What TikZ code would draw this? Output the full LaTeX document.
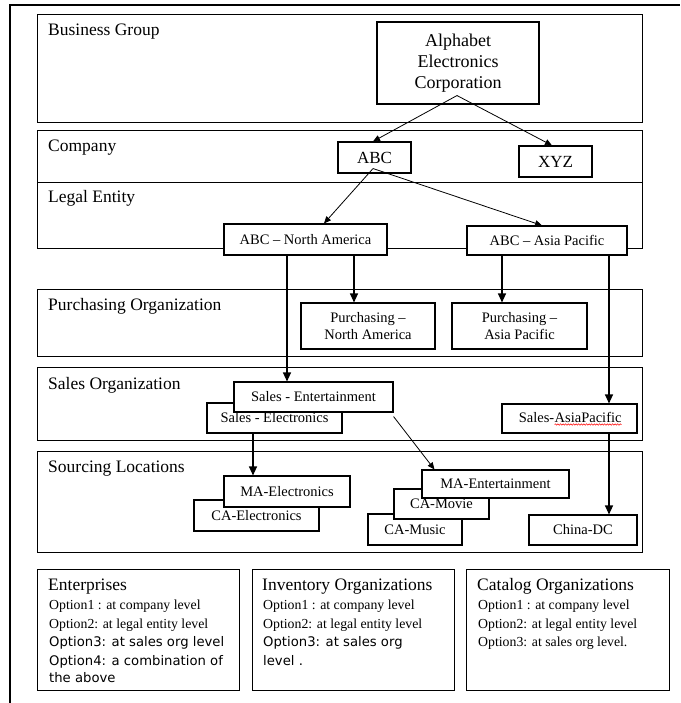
\documentclass[tikz,border=0pt]{standalone}
\usepackage{fontspec}
\setmainfont{Liberation Serif}
\newfontfamily\serf{Liberation Serif}
\newfontfamily\sansf{DejaVu Sans}
\usetikzlibrary{arrows.meta,decorations.pathmorphing}
\begin{document}
\begin{tikzpicture}[x=1pt,y=-1pt,
  band/.style={draw, line width=1.1pt, fill=white, inner sep=0pt, anchor=north west},
  box/.style={draw, line width=1.1pt, fill=white, inner sep=0pt, align=center, font=\serf\fontsize{14.5}{17}\selectfont},
  bigbox/.style={box, font=\serf\fontsize{17}{20.8}\selectfont},
  btxt/.style={inner sep=0pt, font=\serf\fontsize{14.5}{17}\selectfont},
  lbl/.style={anchor=base west, inner sep=0pt, font=\serf\fontsize{17.5}{20}\selectfont},
  opt/.style={anchor=base west, inner sep=0pt, font=\serf\fontsize{13.8}{16}\selectfont},
  sopt/.style={anchor=base west, inner sep=0pt, font=\sansf\fontsize{13.2}{16}\selectfont},
  arr/.style={line width=1.1pt, -{Triangle[length=9pt,width=8pt]}},
  darr/.style={line width=0.8pt, -{Triangle[length=7pt,width=6pt]}},
]
\fill[white] (0,0) rectangle (680,703);
\useasboundingbox (0,0) rectangle (680,703);
% outer frame
\draw[line width=1.2pt] (10,703) -- (10,5) -- (680,5);

% bands
\node[band, minimum width=605pt, minimum height=108pt] (bg) at (37,14) {};
\node[band, minimum width=605pt, minimum height=52pt] (comp) at (37,130) {};
\node[band, minimum width=605pt, minimum height=66pt] (legal) at (37,182) {};
\node[band, minimum width=605pt, minimum height=67pt] (purch) at (37,289) {};
\node[band, minimum width=605pt, minimum height=73pt] (sales) at (37,367) {};
\node[band, minimum width=605pt, minimum height=101pt] (src) at (37,451) {};
\node[band, minimum width=202pt, minimum height=121pt] (ent) at (37,569) {};
\node[band, minimum width=202pt, minimum height=121pt] (inv) at (252,569) {};
\node[band, minimum width=203pt, minimum height=121pt] (cat) at (466,569) {};

% band labels
\node[lbl] (tbg) at (48,36) {Business Group};
\node[lbl] (tcomp) at (48,152) {Company};
\node[lbl] (tlegal) at (48,203) {Legal Entity};
\node[lbl] (tpurch) at (48,310.5) {Purchasing Organization};
\node[lbl] (tsales) at (48,389) {Sales Organization};
\node[lbl] (tsrc) at (48,472) {Sourcing Locations};

% boxes
\node[bigbox, font=\serf\fontsize{18}{20.8}\selectfont, minimum width=162pt, minimum height=82pt] (alpha) at (458,63) {Alphabet\\Electronics\\Corporation};
\node[bigbox, minimum width=73pt, minimum height=31pt] (abc) at (374.5,157.5) {ABC};
\node[bigbox, minimum width=73pt, minimum height=31pt] (xyz) at (555.5,161.5) {XYZ};
\node[box, minimum width=163pt, minimum height=31pt] (abcna) at (305.5,239.5) {ABC – North America};
\node[box, minimum width=160pt, minimum height=29pt] (abcap) at (547,240.5) {ABC – Asia Pacific};
\node[box, minimum width=134pt, minimum height=46pt] (pna) at (368,326) {Purchasing –\\North America};
\node[box, minimum width=135pt, minimum height=46pt] (pap) at (519.5,326) {Purchasing –\\Asia Pacific};
\node[box, minimum width=135pt, minimum height=30pt] (selec) at (274.5,418) {Sales - Electronics};
\node[box, minimum width=159pt, minimum height=30pt] (sent) at (313.5,397) {Sales - Entertainment};
\node[box, minimum width=135pt, minimum height=29pt] (sap) at (569.5,418.5) {};
\node[btxt, anchor=base east] (sapa) at (554.5,422.5) {Sales-};
\node[btxt, anchor=base west] (sapb) at (sapa.base east) {AsiaPacific};
\draw[red, line width=0.5pt, decorate, decoration={snake, amplitude=0.7pt, segment length=2.6pt}]
  ([yshift=-2pt]sapb.base west) -- ([yshift=-2pt]sapb.base east);
\node[box, minimum width=125pt, minimum height=31pt] (caelec) at (256.5,515.5) {CA-Electronics};
\node[box, minimum width=126pt, minimum height=31pt] (maelec) at (287,491.5) {MA-Electronics};
\node[box, minimum width=94pt, minimum height=31pt] (camusic) at (415,529.5) {CA-Music};
\node[box, minimum width=95pt, minimum height=30pt] (camovie) at (441.5,504) {CA-Movie};
\node[box, minimum width=147pt, minimum height=28pt] (maent) at (495.5,484) {MA-Entertainment};
\node[box, minimum width=108pt, minimum height=30pt] (china) at (583,530) {China-DC};

% connectors
\draw[darr] ([xshift=-1pt,yshift=9pt]alpha.south) -- ([xshift=-1.5pt]abc.north);
\draw[darr] ([xshift=-1pt,yshift=9pt]alpha.south) -- ([xshift=-3.5pt]xyz.north);
\draw[darr] ([xshift=-1.5pt,yshift=5pt]abc.south) -- ([xshift=18.5pt]abcna.north);
\draw[darr] ([xshift=-1.5pt,yshift=5pt]abc.south) -- ([xshift=-5pt]abcap.north);
\draw[arr] ([xshift=-18.5pt]abcna.south) -- ([xshift=-26.5pt]sent.north);
\draw[arr] ([xshift=48.5pt]abcna.south) -- ([xshift=-14pt]pna.north);
\draw[arr] ([xshift=-45pt]abcap.south) -- ([xshift=-17.5pt]pap.north);
\draw[arr] ([xshift=62pt]abcap.south) -- ([xshift=39.5pt]sap.north);
\draw[arr] ([xshift=-21.5pt]selec.south) -- ([xshift=-34pt]maelec.north);
\draw[darr] ([yshift=-4pt]sent.south east) -- ([xshift=13pt]maent.north west);
\draw[arr] ([xshift=39.5pt]sap.south) -- ([xshift=26pt]china.north);

% bottom boxes text
\node[lbl] (eh) at (48,590.5) {Enterprises};
\node[opt] (e1) at (49,609) {Option1 : at company level};
\node[opt] (e2) at (49,628) {Option2: at legal entity level};
\node[sopt] (e3) at (49,646.5) {Option3: at sales org level};
\node[sopt] (e4) at (49,665) {Option4: a combination of};
\node[sopt] (e5) at (49,682.5) {the above};

\node[lbl] (ih) at (262,590.5) {Inventory Organizations};
\node[opt] (i1) at (263,609) {Option1 : at company level};
\node[opt] (i2) at (263,628) {Option2: at legal entity level};
\node[sopt] (i3) at (263,646.5) {Option3: at sales org};
\node[sopt] (i4) at (263,665) {level .};

\node[lbl] (ch) at (477,590.5) {Catalog Organizations};
\node[opt] (c1) at (478,609) {Option1 : at company level};
\node[opt] (c2) at (478,628) {Option2: at legal entity level};
\node[opt] (c3) at (478,646) {Option3: at sales org level.};
\end{tikzpicture}
\end{document}
